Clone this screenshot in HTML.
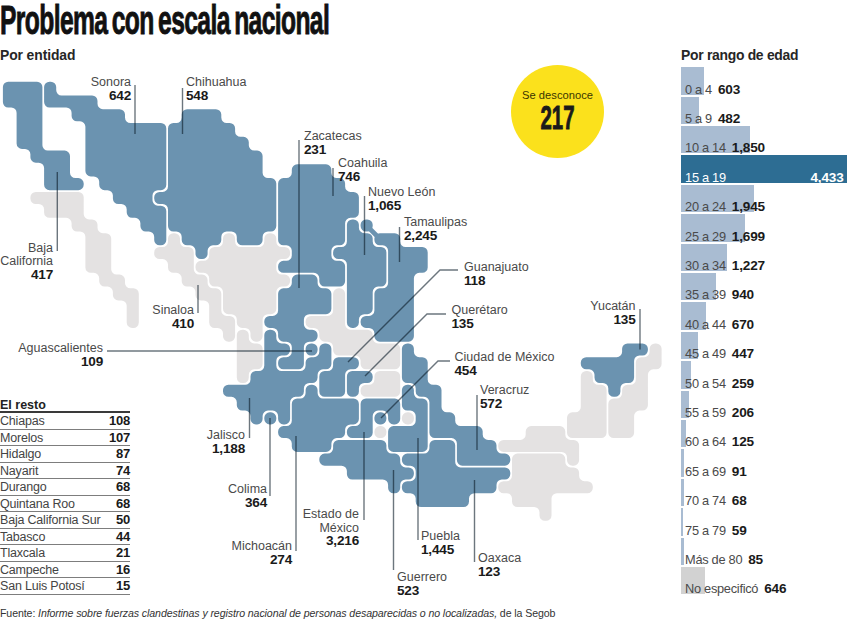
<!DOCTYPE html>
<html><head><meta charset="utf-8"><title>Problema con escala nacional</title>
<style>
html,body{margin:0;padding:0;background:#fff;}
body{width:847px;height:620px;position:relative;overflow:hidden;font-family:"Liberation Sans",sans-serif;color:#222;}
#title{position:absolute;left:0px;top:-2.3px;word-spacing:-3px;font-size:40px;font-weight:bold;letter-spacing:-1px;white-space:nowrap;transform:scaleX(0.616);transform-origin:0 0;color:#111;-webkit-text-stroke:0.9px #111;}
.sub{position:absolute;font-size:13.9px;letter-spacing:-0.1px;font-weight:bold;color:#262626;white-space:nowrap;}
svg#map{position:absolute;left:0;top:0;}
svg text{font-family:"Liberation Sans",sans-serif;font-size:12.5px;}
.ln{fill:#4a4a4a;}
.lv{fill:#1a1a1a;font-weight:bold;font-size:13.6px;letter-spacing:-0.2px;}
.bar{position:absolute;left:681px;height:27.4px;background:#a9bcd2;white-space:nowrap;font-size:12.5px;color:#555;overflow:visible;}
.bar.dark{background:#2d6d93;color:#fff;}
.bar.grey{background:#d2d2d2;}
.bar .bt{position:absolute;left:4px;bottom:-3px;line-height:16px;height:16px;}
.bar .bl{letter-spacing:-0.15px;word-spacing:-0.4px;font-size:12.8px;color:#4a4a4a;}
.bar.dark .bl{color:#fff;}
.bar .bl.tx{letter-spacing:-0.28px;word-spacing:0;}
.bar .bv{font-weight:bold;color:#1a1a1a;margin-left:6px;font-size:13.6px;letter-spacing:-0.2px;}
.bar .bvr{font-weight:bold;color:#fff;position:absolute;right:4.5px;bottom:-3px;line-height:16px;height:16px;font-size:13.6px;letter-spacing:-0.2px;}
#rest{position:absolute;left:0;top:397px;width:130px;font-size:12.5px;}
#rest .hd{font-weight:bold;color:#222;height:14px;line-height:16px;border-bottom:2px solid #3a3a3a;}
.rr{height:15.55px;line-height:16px;border-bottom:1px solid #7d7d7d;position:relative;color:#444;white-space:nowrap;letter-spacing:-0.2px;}
.rr b{position:absolute;right:0;color:#1a1a1a;font-size:13px;}
#src{position:absolute;left:0;top:606.5px;font-size:10.6px;color:#333;white-space:nowrap;letter-spacing:-0.1px;}
#circ{position:absolute;left:511px;top:65px;width:93px;height:93px;border-radius:50%;background:#fbe11c;}
#circ .t{position:absolute;left:0;width:93px;top:24px;text-align:center;font-size:11.2px;color:#3a3500;}
#circ .n{position:absolute;left:0;width:93px;top:33px;text-align:center;font-size:34px;font-weight:bold;color:#1a1a1a;transform:scaleX(0.6);line-height:38px;-webkit-text-stroke:0.9px #1a1a1a;}
</style></head><body>
<div id="title">Problema con escala nacional</div>
<div class="sub" style="left:0;top:47px;">Por entidad</div>
<div class="sub" style="left:681px;top:47px;letter-spacing:-0.28px;">Por rango de edad</div>
<svg id="map" width="847" height="620" viewBox="0 0 847 620">
<path d="M525.7 431.5A5.4 5.4 0 0 1 531.1 426.1L559.9 426.1A5.4 5.4 0 0 1 565.3 431.5L565.3 434.5A5.4 5.4 0 0 0 570.7 439.9L573.7 439.9A5.4 5.4 0 0 1 579.1 445.2L579.1 460.3A5.4 5.4 0 0 1 573.7 465.7L572.4 465.7A5.4 5.4 0 0 1 567.0 460.3L567.0 457.3A5.4 5.4 0 0 0 561.6 451.9L503.6 451.9A5.4 5.4 0 0 1 498.2 446.5L498.2 445.2A5.4 5.4 0 0 1 503.6 439.9L520.3 439.9A5.4 5.4 0 0 0 525.7 434.5Z" fill="#e4e2e2"/>
<path d="M30.4 197.3A5.4 5.4 0 0 1 35.8 191.9L78.3 191.9A5.4 5.4 0 0 1 83.7 197.3L83.7 214.0A5.4 5.4 0 0 0 89.1 219.4L92.1 219.4A5.4 5.4 0 0 1 97.5 224.8L97.5 227.8A5.4 5.4 0 0 0 102.9 233.2L105.8 233.2A5.4 5.4 0 0 1 111.2 238.6L111.2 269.2A5.4 5.4 0 0 0 116.6 274.6L119.6 274.6A5.4 5.4 0 0 1 125.0 279.9L125.0 282.9A5.4 5.4 0 0 0 130.4 288.3L133.3 288.3A5.4 5.4 0 0 1 138.8 293.7L138.8 322.6A5.4 5.4 0 0 1 133.3 327.9L132.1 327.9A5.4 5.4 0 0 1 126.7 322.6L126.7 305.8A5.4 5.4 0 0 0 121.3 300.4L118.3 300.4A5.4 5.4 0 0 1 112.9 295.0L112.9 292.0A5.4 5.4 0 0 0 107.5 286.6L104.6 286.6A5.4 5.4 0 0 1 99.2 281.2L99.2 278.2A5.4 5.4 0 0 0 93.8 272.8L90.8 272.8A5.4 5.4 0 0 1 85.4 267.4L85.4 236.9A5.4 5.4 0 0 0 80.0 231.5L77.0 231.5A5.4 5.4 0 0 1 71.6 226.1L71.6 223.2A5.4 5.4 0 0 0 66.2 217.8L49.5 217.8A5.4 5.4 0 0 1 44.1 212.3L44.1 209.4A5.4 5.4 0 0 0 38.7 204.0L35.8 204.0A5.4 5.4 0 0 1 30.4 198.6Z" fill="#e4e2e2"/>
<path d="M512.0 459.0A5.4 5.4 0 0 1 517.4 453.6L559.9 453.6A5.4 5.4 0 0 1 565.3 459.0L565.3 462.0A5.4 5.4 0 0 0 570.7 467.4L573.7 467.4A5.4 5.4 0 0 1 579.1 472.8L579.1 475.8A5.4 5.4 0 0 0 584.5 481.2L587.4 481.2A5.4 5.4 0 0 1 592.8 486.6L592.8 487.9A5.4 5.4 0 0 1 587.4 493.2L556.9 493.2A5.4 5.4 0 0 0 551.5 498.6L551.5 515.4A5.4 5.4 0 0 1 546.1 520.8L544.9 520.8A5.4 5.4 0 0 1 539.5 515.4L539.5 512.4A5.4 5.4 0 0 0 534.1 507.0L517.4 507.0A5.4 5.4 0 0 1 512.0 501.6L512.0 498.6A5.4 5.4 0 0 0 506.6 493.2L503.6 493.2A5.4 5.4 0 0 1 498.2 487.9L498.2 486.6A5.4 5.4 0 0 1 503.6 481.2L506.6 481.2A5.4 5.4 0 0 0 512.0 475.8Z" fill="#e4e2e2"/>
<path d="M223.0 238.6A5.4 5.4 0 0 1 228.4 233.2L229.7 233.2A5.4 5.4 0 0 1 235.1 238.6L235.1 241.6A5.4 5.4 0 0 0 240.5 247.0L258.9 247.0A5.4 5.4 0 0 0 264.3 241.6L264.3 238.6A5.4 5.4 0 0 1 269.7 233.2L270.9 233.2A5.4 5.4 0 0 1 276.3 238.6L276.3 241.6A5.4 5.4 0 0 0 281.7 247.0L284.7 247.0A5.4 5.4 0 0 1 290.1 252.4L290.1 253.7A5.4 5.4 0 0 1 284.7 259.1L281.7 259.1A5.4 5.4 0 0 0 276.3 264.5L276.3 269.2A5.4 5.4 0 0 0 281.7 274.6L284.7 274.6A5.4 5.4 0 0 1 290.1 279.9L290.1 281.2A5.4 5.4 0 0 1 284.7 286.6L281.7 286.6A5.4 5.4 0 0 0 276.3 292.0L276.3 308.8A5.4 5.4 0 0 1 270.9 314.2L268.0 314.2A5.4 5.4 0 0 0 262.6 319.6L262.6 336.3A5.4 5.4 0 0 1 257.2 341.7L255.9 341.7A5.4 5.4 0 0 1 250.5 336.3L250.5 333.3A5.4 5.4 0 0 0 245.1 327.9L242.2 327.9A5.4 5.4 0 0 1 236.8 322.6L236.8 319.6A5.4 5.4 0 0 0 231.4 314.2L228.4 314.2A5.4 5.4 0 0 1 223.0 308.8L223.0 292.0A5.4 5.4 0 0 0 217.6 286.6L214.7 286.6A5.4 5.4 0 0 1 209.2 281.2L209.2 278.2A5.4 5.4 0 0 0 203.8 272.8L200.9 272.8A5.4 5.4 0 0 1 195.5 267.4L195.5 266.2A5.4 5.4 0 0 1 200.9 260.8L203.8 260.8A5.4 5.4 0 0 0 209.2 255.4L209.2 252.4A5.4 5.4 0 0 1 214.7 247.0L217.6 247.0A5.4 5.4 0 0 0 223.0 241.6Z" fill="#e4e2e2"/>
<path d="M580.8 376.4A5.4 5.4 0 0 1 586.2 371.0L587.4 371.0A5.4 5.4 0 0 1 592.8 376.4L592.8 379.4A5.4 5.4 0 0 0 598.2 384.8L601.2 384.8A5.4 5.4 0 0 1 606.6 390.1L606.6 432.8A5.4 5.4 0 0 1 601.2 438.1L572.4 438.1A5.4 5.4 0 0 1 567.0 432.8L567.0 417.7A5.4 5.4 0 0 1 572.4 412.3L575.4 412.3A5.4 5.4 0 0 0 580.8 406.9Z" fill="#e4e2e2"/>
<path d="M374.4 376.4A5.4 5.4 0 0 1 379.8 371.0L394.8 371.0A5.4 5.4 0 0 1 400.2 376.4L400.2 391.4A5.4 5.4 0 0 1 394.8 396.8L366.0 396.8A5.4 5.4 0 0 1 360.6 391.4L360.6 390.1A5.4 5.4 0 0 1 366.0 384.8L369.0 384.8A5.4 5.4 0 0 0 374.4 379.4Z" fill="#e4e2e2"/>
<path d="M374.4 431.5A5.4 5.4 0 0 1 379.8 426.1L381.0 426.1A5.4 5.4 0 0 1 386.4 431.5L386.4 432.8A5.4 5.4 0 0 1 381.0 438.1L379.8 438.1A5.4 5.4 0 0 1 374.4 432.8Z" fill="#e4e2e2"/>
<path d="M236.8 335.1A5.4 5.4 0 0 1 242.2 329.7L243.4 329.7A5.4 5.4 0 0 1 248.8 335.1L248.8 338.0A5.4 5.4 0 0 0 254.2 343.4L257.2 343.4A5.4 5.4 0 0 1 262.6 348.8L262.6 363.9A5.4 5.4 0 0 1 257.2 369.3L254.2 369.3A5.4 5.4 0 0 0 248.8 374.7L248.8 377.6A5.4 5.4 0 0 1 243.4 383.0L242.2 383.0A5.4 5.4 0 0 1 236.8 377.6Z" fill="#e4e2e2"/>
<path d="M333.1 293.7A5.4 5.4 0 0 1 338.5 288.3L339.8 288.3A5.4 5.4 0 0 1 345.1 293.7L345.1 324.3A5.4 5.4 0 0 0 350.5 329.7L367.3 329.7A5.4 5.4 0 0 1 372.7 335.1L372.7 338.0A5.4 5.4 0 0 0 378.1 343.4L394.8 343.4A5.4 5.4 0 0 1 400.2 348.8L400.2 363.9A5.4 5.4 0 0 1 394.8 369.3L366.0 369.3A5.4 5.4 0 0 1 360.6 363.9L360.6 360.9A5.4 5.4 0 0 0 355.2 355.5L338.5 355.5A5.4 5.4 0 0 1 333.1 350.1L333.1 347.1A5.4 5.4 0 0 0 327.7 341.7L324.7 341.7A5.4 5.4 0 0 1 319.3 336.3L319.3 333.3A5.4 5.4 0 0 0 313.9 327.9L311.0 327.9A5.4 5.4 0 0 1 305.6 322.6L305.6 321.3A5.4 5.4 0 0 1 311.0 315.9L327.7 315.9A5.4 5.4 0 0 0 333.1 310.5Z" fill="#e4e2e2"/>
<path d="M649.6 348.8A5.4 5.4 0 0 1 655.0 343.4L656.2 343.4A5.4 5.4 0 0 1 661.6 348.8L661.6 363.9A5.4 5.4 0 0 1 656.2 369.3L653.3 369.3A5.4 5.4 0 0 0 647.9 374.7L647.9 405.2A5.4 5.4 0 0 1 642.5 410.6L639.5 410.6A5.4 5.4 0 0 0 634.1 416.0L634.1 432.8A5.4 5.4 0 0 1 628.7 438.1L613.7 438.1A5.4 5.4 0 0 1 608.3 432.8L608.3 403.9A5.4 5.4 0 0 1 613.7 398.5L616.7 398.5A5.4 5.4 0 0 0 622.1 393.1L622.1 390.1A5.4 5.4 0 0 1 627.5 384.8L630.4 384.8A5.4 5.4 0 0 0 635.8 379.4L635.8 362.6A5.4 5.4 0 0 1 641.2 357.2L644.2 357.2A5.4 5.4 0 0 0 649.6 351.8Z" fill="#e4e2e2"/>
<path d="M168.0 238.6A5.4 5.4 0 0 1 173.4 233.2L174.6 233.2A5.4 5.4 0 0 1 180.0 238.6L180.0 241.6A5.4 5.4 0 0 0 185.4 247.0L188.4 247.0A5.4 5.4 0 0 1 193.8 252.4L193.8 269.2A5.4 5.4 0 0 0 199.2 274.6L202.2 274.6A5.4 5.4 0 0 1 207.6 279.9L207.6 282.9A5.4 5.4 0 0 0 213.0 288.3L215.9 288.3A5.4 5.4 0 0 1 221.3 293.7L221.3 310.5A5.4 5.4 0 0 0 226.7 315.9L229.7 315.9A5.4 5.4 0 0 1 235.1 321.3L235.1 336.3A5.4 5.4 0 0 1 229.7 341.7L228.4 341.7A5.4 5.4 0 0 1 223.0 336.3L223.0 333.3A5.4 5.4 0 0 0 217.6 327.9L214.7 327.9A5.4 5.4 0 0 1 209.2 322.6L209.2 305.8A5.4 5.4 0 0 0 203.8 300.4L200.9 300.4A5.4 5.4 0 0 1 195.5 295.0L195.5 292.0A5.4 5.4 0 0 0 190.1 286.6L187.1 286.6A5.4 5.4 0 0 1 181.7 281.2L181.7 278.2A5.4 5.4 0 0 0 176.3 272.8L173.4 272.8A5.4 5.4 0 0 1 168.0 267.4L168.0 264.5A5.4 5.4 0 0 0 162.6 259.1L159.6 259.1A5.4 5.4 0 0 1 154.2 253.7L154.2 252.4A5.4 5.4 0 0 1 159.6 247.0L162.6 247.0A5.4 5.4 0 0 0 168.0 241.6Z" fill="#e4e2e2"/>
<path d="M401.9 417.7A5.4 5.4 0 0 1 407.3 412.3L408.6 412.3A5.4 5.4 0 0 1 413.9 417.7L413.9 419.0A5.4 5.4 0 0 1 408.6 424.4L407.3 424.4A5.4 5.4 0 0 1 401.9 419.0Z" fill="#e4e2e2"/>
<path d="M305.6 348.8A5.4 5.4 0 0 1 311.0 343.4L312.2 343.4A5.4 5.4 0 0 1 317.6 348.8L317.6 350.1A5.4 5.4 0 0 1 312.2 355.5L311.0 355.5A5.4 5.4 0 0 1 305.6 350.1Z" fill="#6b93b0"/>
<path d="M2.9 87.1A5.4 5.4 0 0 1 8.2 81.7L37.0 81.7A5.4 5.4 0 0 1 42.4 87.1L42.4 145.2A5.4 5.4 0 0 0 47.8 150.6L64.5 150.6A5.4 5.4 0 0 1 70.0 156.0L70.0 172.7A5.4 5.4 0 0 0 75.4 178.1L78.3 178.1A5.4 5.4 0 0 1 83.7 183.5L83.7 184.8A5.4 5.4 0 0 1 78.3 190.2L49.5 190.2A5.4 5.4 0 0 1 44.1 184.8L44.1 168.1A5.4 5.4 0 0 0 38.7 162.7L35.8 162.7A5.4 5.4 0 0 1 30.4 157.2L30.4 154.3A5.4 5.4 0 0 0 25.0 148.9L22.0 148.9A5.4 5.4 0 0 1 16.6 143.5L16.6 113.0A5.4 5.4 0 0 0 11.2 107.5L8.2 107.5A5.4 5.4 0 0 1 2.9 102.1Z" fill="#6b93b0"/>
<path d="M181.7 114.6A5.4 5.4 0 0 1 187.1 109.2L215.9 109.2A5.4 5.4 0 0 1 221.3 114.6L221.3 117.6A5.4 5.4 0 0 0 226.7 123.0L229.7 123.0A5.4 5.4 0 0 1 235.1 128.4L235.1 131.4A5.4 5.4 0 0 0 240.5 136.8L243.4 136.8A5.4 5.4 0 0 1 248.8 142.2L248.8 145.2A5.4 5.4 0 0 0 254.2 150.6L257.2 150.6A5.4 5.4 0 0 1 262.6 156.0L262.6 172.7A5.4 5.4 0 0 0 268.0 178.1L270.9 178.1A5.4 5.4 0 0 1 276.3 183.5L276.3 226.1A5.4 5.4 0 0 1 270.9 231.5L268.0 231.5A5.4 5.4 0 0 0 262.6 236.9L262.6 239.9A5.4 5.4 0 0 1 257.2 245.3L242.2 245.3A5.4 5.4 0 0 1 236.8 239.9L236.8 236.9A5.4 5.4 0 0 0 231.4 231.5L226.7 231.5A5.4 5.4 0 0 0 221.3 236.9L221.3 239.9A5.4 5.4 0 0 1 215.9 245.3L213.0 245.3A5.4 5.4 0 0 0 207.6 250.7L207.6 253.7A5.4 5.4 0 0 1 202.2 259.1L200.9 259.1A5.4 5.4 0 0 1 195.5 253.7L195.5 250.7A5.4 5.4 0 0 0 190.1 245.3L187.1 245.3A5.4 5.4 0 0 1 181.7 239.9L181.7 236.9A5.4 5.4 0 0 0 176.3 231.5L173.4 231.5A5.4 5.4 0 0 1 168.0 226.1L168.0 209.4A5.4 5.4 0 0 0 162.6 204.0L159.6 204.0A5.4 5.4 0 0 1 154.2 198.6L154.2 197.3A5.4 5.4 0 0 1 159.6 191.9L162.6 191.9A5.4 5.4 0 0 0 168.0 186.5L168.0 128.4A5.4 5.4 0 0 1 173.4 123.0L176.3 123.0A5.4 5.4 0 0 0 181.7 117.6Z" fill="#6b93b0"/>
<path d="M360.6 403.9A5.4 5.4 0 0 1 366.0 398.5L394.8 398.5A5.4 5.4 0 0 1 400.2 403.9L400.2 419.0A5.4 5.4 0 0 1 394.8 424.4L393.5 424.4A5.4 5.4 0 0 1 388.1 419.0L388.1 416.0A5.4 5.4 0 0 0 382.7 410.6L378.1 410.6A5.4 5.4 0 0 0 372.7 416.0L372.7 432.8A5.4 5.4 0 0 1 367.3 438.1L352.2 438.1A5.4 5.4 0 0 1 346.9 432.8L346.9 431.5A5.4 5.4 0 0 1 352.2 426.1L355.2 426.1A5.4 5.4 0 0 0 360.6 420.7Z" fill="#6b93b0"/>
<path d="M333.1 362.6A5.4 5.4 0 0 1 338.5 357.2L353.5 357.2A5.4 5.4 0 0 1 358.9 362.6L358.9 363.9A5.4 5.4 0 0 1 353.5 369.3L350.5 369.3A5.4 5.4 0 0 0 345.1 374.7L345.1 391.4A5.4 5.4 0 0 1 339.8 396.8L324.7 396.8A5.4 5.4 0 0 1 319.3 391.4L319.3 376.4A5.4 5.4 0 0 1 324.7 371.0L327.7 371.0A5.4 5.4 0 0 0 333.1 365.6Z" fill="#6b93b0"/>
<path d="M264.3 335.1A5.4 5.4 0 0 1 269.7 329.7L270.9 329.7A5.4 5.4 0 0 1 276.3 335.1L276.3 338.0A5.4 5.4 0 0 0 281.7 343.4L284.7 343.4A5.4 5.4 0 0 1 290.1 348.8L290.1 350.1A5.4 5.4 0 0 1 284.7 355.5L281.7 355.5A5.4 5.4 0 0 0 276.3 360.9L276.3 365.6A5.4 5.4 0 0 0 281.7 371.0L300.2 371.0A5.4 5.4 0 0 0 305.6 365.6L305.6 362.6A5.4 5.4 0 0 1 311.0 357.2L313.9 357.2A5.4 5.4 0 0 0 319.3 351.8L319.3 348.8A5.4 5.4 0 0 1 324.7 343.4L326.0 343.4A5.4 5.4 0 0 1 331.4 348.8L331.4 363.9A5.4 5.4 0 0 1 326.0 369.3L323.0 369.3A5.4 5.4 0 0 0 317.6 374.7L317.6 377.6A5.4 5.4 0 0 1 312.2 383.0L309.3 383.0A5.4 5.4 0 0 0 303.9 388.4L303.9 391.4A5.4 5.4 0 0 1 298.5 396.8L295.5 396.8A5.4 5.4 0 0 0 290.1 402.2L290.1 419.0A5.4 5.4 0 0 1 284.7 424.4L283.4 424.4A5.4 5.4 0 0 1 278.1 419.0L278.1 416.0A5.4 5.4 0 0 0 272.7 410.6L268.0 410.6A5.4 5.4 0 0 0 262.6 416.0L262.6 419.0A5.4 5.4 0 0 1 257.2 424.4L255.9 424.4A5.4 5.4 0 0 1 250.5 419.0L250.5 416.0A5.4 5.4 0 0 0 245.1 410.6L242.2 410.6A5.4 5.4 0 0 1 236.8 405.2L236.8 402.2A5.4 5.4 0 0 0 231.4 396.8L228.4 396.8A5.4 5.4 0 0 1 223.0 391.4L223.0 390.1A5.4 5.4 0 0 1 228.4 384.8L245.1 384.8A5.4 5.4 0 0 0 250.5 379.4L250.5 376.4A5.4 5.4 0 0 1 255.9 371.0L258.9 371.0A5.4 5.4 0 0 0 264.3 365.6Z" fill="#6b93b0"/>
<path d="M429.4 445.2A5.4 5.4 0 0 1 434.8 439.9L449.8 439.9A5.4 5.4 0 0 1 455.2 445.2L455.2 462.0A5.4 5.4 0 0 0 460.6 467.4L504.9 467.4A5.4 5.4 0 0 1 510.3 472.8L510.3 474.1A5.4 5.4 0 0 1 504.9 479.5L501.9 479.5A5.4 5.4 0 0 0 496.5 484.9L496.5 487.9A5.4 5.4 0 0 1 491.1 493.2L474.4 493.2A5.4 5.4 0 0 0 469.0 498.6L469.0 501.6A5.4 5.4 0 0 1 463.6 507.0L421.1 507.0A5.4 5.4 0 0 1 415.7 501.6L415.7 498.6A5.4 5.4 0 0 0 410.3 493.2L407.3 493.2A5.4 5.4 0 0 1 401.9 487.9L401.9 486.6A5.4 5.4 0 0 1 407.3 481.2L410.3 481.2A5.4 5.4 0 0 0 415.7 475.8L415.7 471.1A5.4 5.4 0 0 0 410.3 465.7L407.3 465.7A5.4 5.4 0 0 1 401.9 460.3L401.9 459.0A5.4 5.4 0 0 1 407.3 453.6L424.0 453.6A5.4 5.4 0 0 0 429.4 448.2Z" fill="#6b93b0"/>
<path d="M264.3 417.7A5.4 5.4 0 0 1 269.7 412.3L270.9 412.3A5.4 5.4 0 0 1 276.3 417.7L276.3 419.0A5.4 5.4 0 0 1 270.9 424.4L269.7 424.4A5.4 5.4 0 0 1 264.3 419.0Z" fill="#6b93b0"/>
<path d="M305.6 390.1A5.4 5.4 0 0 1 311.0 384.8L312.2 384.8A5.4 5.4 0 0 1 317.6 390.1L317.6 393.1A5.4 5.4 0 0 0 323.0 398.5L353.5 398.5A5.4 5.4 0 0 1 358.9 403.9L358.9 419.0A5.4 5.4 0 0 1 353.5 424.4L350.5 424.4A5.4 5.4 0 0 0 345.1 429.8L345.1 432.8A5.4 5.4 0 0 1 339.8 438.1L336.8 438.1A5.4 5.4 0 0 0 331.4 443.5L331.4 446.5A5.4 5.4 0 0 1 326.0 451.9L297.2 451.9A5.4 5.4 0 0 1 291.8 446.5L291.8 443.5A5.4 5.4 0 0 0 286.4 438.1L283.4 438.1A5.4 5.4 0 0 1 278.1 432.8L278.1 431.5A5.4 5.4 0 0 1 283.4 426.1L286.4 426.1A5.4 5.4 0 0 0 291.8 420.7L291.8 403.9A5.4 5.4 0 0 1 297.2 398.5L300.2 398.5A5.4 5.4 0 0 0 305.6 393.1Z" fill="#6b93b0"/>
<path d="M346.9 224.8A5.4 5.4 0 0 1 352.2 219.4L353.5 219.4A5.4 5.4 0 0 1 358.9 224.8L358.9 227.8A5.4 5.4 0 0 0 364.3 233.2L367.3 233.2A5.4 5.4 0 0 1 372.7 238.6L372.7 241.6A5.4 5.4 0 0 0 378.1 247.0L381.0 247.0A5.4 5.4 0 0 1 386.4 252.4L386.4 281.2A5.4 5.4 0 0 1 381.0 286.6L378.1 286.6A5.4 5.4 0 0 0 372.7 292.0L372.7 308.8A5.4 5.4 0 0 1 367.3 314.2L364.3 314.2A5.4 5.4 0 0 0 358.9 319.6L358.9 322.6A5.4 5.4 0 0 1 353.5 327.9L352.2 327.9A5.4 5.4 0 0 1 346.9 322.6L346.9 264.5A5.4 5.4 0 0 0 341.5 259.1L338.5 259.1A5.4 5.4 0 0 1 333.1 253.7L333.1 252.4A5.4 5.4 0 0 1 338.5 247.0L341.5 247.0A5.4 5.4 0 0 0 346.9 241.6Z" fill="#6b93b0"/>
<path d="M291.8 169.8A5.4 5.4 0 0 1 297.2 164.3L326.0 164.3A5.4 5.4 0 0 1 331.4 169.8L331.4 172.7A5.4 5.4 0 0 0 336.8 178.1L339.8 178.1A5.4 5.4 0 0 1 345.1 183.5L345.1 186.5A5.4 5.4 0 0 0 350.5 191.9L353.5 191.9A5.4 5.4 0 0 1 358.9 197.3L358.9 212.3A5.4 5.4 0 0 1 353.5 217.8L350.5 217.8A5.4 5.4 0 0 0 345.1 223.2L345.1 239.9A5.4 5.4 0 0 1 339.8 245.3L336.8 245.3A5.4 5.4 0 0 0 331.4 250.7L331.4 255.4A5.4 5.4 0 0 0 336.8 260.8L339.8 260.8A5.4 5.4 0 0 1 345.1 266.2L345.1 281.2A5.4 5.4 0 0 1 339.8 286.6L324.7 286.6A5.4 5.4 0 0 1 319.3 281.2L319.3 278.2A5.4 5.4 0 0 0 313.9 272.8L283.4 272.8A5.4 5.4 0 0 1 278.1 267.4L278.1 266.2A5.4 5.4 0 0 1 283.4 260.8L286.4 260.8A5.4 5.4 0 0 0 291.8 255.4L291.8 250.7A5.4 5.4 0 0 0 286.4 245.3L283.4 245.3A5.4 5.4 0 0 1 278.1 239.9L278.1 183.5A5.4 5.4 0 0 1 283.4 178.1L286.4 178.1A5.4 5.4 0 0 0 291.8 172.7Z" fill="#6b93b0"/>
<path d="M401.9 390.1A5.4 5.4 0 0 1 407.3 384.8L408.6 384.8A5.4 5.4 0 0 1 413.9 390.1L413.9 393.1A5.4 5.4 0 0 0 419.3 398.5L422.3 398.5A5.4 5.4 0 0 1 427.7 403.9L427.7 446.5A5.4 5.4 0 0 1 422.3 451.9L393.5 451.9A5.4 5.4 0 0 1 388.1 446.5L388.1 431.5A5.4 5.4 0 0 1 393.5 426.1L410.3 426.1A5.4 5.4 0 0 0 415.7 420.7L415.7 416.0A5.4 5.4 0 0 0 410.3 410.6L407.3 410.6A5.4 5.4 0 0 1 401.9 405.2Z" fill="#6b93b0"/>
<path d="M346.9 376.4A5.4 5.4 0 0 1 352.2 371.0L367.3 371.0A5.4 5.4 0 0 1 372.7 376.4L372.7 377.6A5.4 5.4 0 0 1 367.3 383.0L364.3 383.0A5.4 5.4 0 0 0 358.9 388.4L358.9 391.4A5.4 5.4 0 0 1 353.5 396.8L352.2 396.8A5.4 5.4 0 0 1 346.9 391.4Z" fill="#6b93b0"/>
<path d="M333.1 445.2A5.4 5.4 0 0 1 338.5 439.9L381.0 439.9A5.4 5.4 0 0 1 386.4 445.2L386.4 448.2A5.4 5.4 0 0 0 391.8 453.6L394.8 453.6A5.4 5.4 0 0 1 400.2 459.0L400.2 462.0A5.4 5.4 0 0 0 405.6 467.4L408.6 467.4A5.4 5.4 0 0 1 413.9 472.8L413.9 474.1A5.4 5.4 0 0 1 408.6 479.5L405.6 479.5A5.4 5.4 0 0 0 400.2 484.9L400.2 487.9A5.4 5.4 0 0 1 394.8 493.2L393.5 493.2A5.4 5.4 0 0 1 388.1 487.9L388.1 484.9A5.4 5.4 0 0 0 382.7 479.5L352.2 479.5A5.4 5.4 0 0 1 346.9 474.1L346.9 471.1A5.4 5.4 0 0 0 341.5 465.7L324.7 465.7A5.4 5.4 0 0 1 319.3 460.3L319.3 459.0A5.4 5.4 0 0 1 324.7 453.6L327.7 453.6A5.4 5.4 0 0 0 333.1 448.2Z" fill="#6b93b0"/>
<path d="M44.1 87.1A5.4 5.4 0 0 1 49.5 81.7L50.8 81.7A5.4 5.4 0 0 1 56.2 87.1L56.2 90.1A5.4 5.4 0 0 0 61.6 95.5L92.1 95.5A5.4 5.4 0 0 1 97.5 100.9L97.5 103.8A5.4 5.4 0 0 0 102.9 109.2L119.6 109.2A5.4 5.4 0 0 1 125.0 114.6L125.0 117.6A5.4 5.4 0 0 0 130.4 123.0L160.9 123.0A5.4 5.4 0 0 1 166.3 128.4L166.3 184.8A5.4 5.4 0 0 1 160.9 190.2L157.9 190.2A5.4 5.4 0 0 0 152.5 195.6L152.5 200.3A5.4 5.4 0 0 0 157.9 205.7L160.9 205.7A5.4 5.4 0 0 1 166.3 211.1L166.3 239.9A5.4 5.4 0 0 1 160.9 245.3L159.6 245.3A5.4 5.4 0 0 1 154.2 239.9L154.2 236.9A5.4 5.4 0 0 0 148.8 231.5L145.8 231.5A5.4 5.4 0 0 1 140.4 226.1L140.4 223.2A5.4 5.4 0 0 0 135.0 217.8L132.1 217.8A5.4 5.4 0 0 1 126.7 212.3L126.7 209.4A5.4 5.4 0 0 0 121.3 204.0L118.3 204.0A5.4 5.4 0 0 1 112.9 198.6L112.9 195.6A5.4 5.4 0 0 0 107.5 190.2L104.6 190.2A5.4 5.4 0 0 1 99.2 184.8L99.2 181.8A5.4 5.4 0 0 0 93.8 176.4L90.8 176.4A5.4 5.4 0 0 1 85.4 171.0L85.4 126.7A5.4 5.4 0 0 0 80.0 121.3L77.0 121.3A5.4 5.4 0 0 1 71.6 115.9L71.6 113.0A5.4 5.4 0 0 0 66.2 107.5L49.5 107.5A5.4 5.4 0 0 1 44.1 102.1Z" fill="#6b93b0"/>
<path d="M360.6 224.8A5.4 5.4 0 0 1 366.0 219.4L367.3 219.4A5.4 5.4 0 0 1 372.7 224.8L372.7 226.1A5.4 5.4 0 0 1 367.3 231.5L366.0 231.5A5.4 5.4 0 0 1 360.6 226.1ZM374.4 238.6A5.4 5.4 0 0 1 379.8 233.2L394.8 233.2A5.4 5.4 0 0 1 400.2 238.6L400.2 241.6A5.4 5.4 0 0 0 405.6 247.0L422.3 247.0A5.4 5.4 0 0 1 427.7 252.4L427.7 267.4A5.4 5.4 0 0 1 422.3 272.8L419.3 272.8A5.4 5.4 0 0 0 413.9 278.2L413.9 336.3A5.4 5.4 0 0 1 408.6 341.7L379.8 341.7A5.4 5.4 0 0 1 374.4 336.3L374.4 333.3A5.4 5.4 0 0 0 369.0 327.9L366.0 327.9A5.4 5.4 0 0 1 360.6 322.6L360.6 321.3A5.4 5.4 0 0 1 366.0 315.9L369.0 315.9A5.4 5.4 0 0 0 374.4 310.5L374.4 293.7A5.4 5.4 0 0 1 379.8 288.3L382.7 288.3A5.4 5.4 0 0 0 388.1 282.9L388.1 250.7A5.4 5.4 0 0 0 382.7 245.3L379.8 245.3A5.4 5.4 0 0 1 374.4 239.9Z" fill="#6b93b0"/>
<path d="M401.9 348.8A5.4 5.4 0 0 1 407.3 343.4L408.6 343.4A5.4 5.4 0 0 1 413.9 348.8L413.9 351.8A5.4 5.4 0 0 0 419.3 357.2L422.3 357.2A5.4 5.4 0 0 1 427.7 362.6L427.7 379.4A5.4 5.4 0 0 0 433.1 384.8L436.1 384.8A5.4 5.4 0 0 1 441.5 390.1L441.5 406.9A5.4 5.4 0 0 0 446.9 412.3L449.8 412.3A5.4 5.4 0 0 1 455.2 417.7L455.2 420.7A5.4 5.4 0 0 0 460.6 426.1L477.3 426.1A5.4 5.4 0 0 1 482.7 431.5L482.7 434.5A5.4 5.4 0 0 0 488.1 439.9L491.1 439.9A5.4 5.4 0 0 1 496.5 445.2L496.5 448.2A5.4 5.4 0 0 0 501.9 453.6L504.9 453.6A5.4 5.4 0 0 1 510.3 459.0L510.3 460.3A5.4 5.4 0 0 1 504.9 465.7L462.3 465.7A5.4 5.4 0 0 1 456.9 460.3L456.9 443.5A5.4 5.4 0 0 0 451.5 438.1L434.8 438.1A5.4 5.4 0 0 1 429.4 432.8L429.4 402.2A5.4 5.4 0 0 0 424.0 396.8L421.1 396.8A5.4 5.4 0 0 1 415.7 391.4L415.7 388.4A5.4 5.4 0 0 0 410.3 383.0L407.3 383.0A5.4 5.4 0 0 1 401.9 377.6Z" fill="#6b93b0"/>
<path d="M374.4 417.7A5.4 5.4 0 0 1 379.8 412.3L381.0 412.3A5.4 5.4 0 0 1 386.4 417.7L386.4 419.0A5.4 5.4 0 0 1 381.0 424.4L379.8 424.4A5.4 5.4 0 0 1 374.4 419.0Z" fill="#6b93b0"/>
<path d="M622.1 348.8A5.4 5.4 0 0 1 627.5 343.4L642.5 343.4A5.4 5.4 0 0 1 647.9 348.8L647.9 350.1A5.4 5.4 0 0 1 642.5 355.5L639.5 355.5A5.4 5.4 0 0 0 634.1 360.9L634.1 377.6A5.4 5.4 0 0 1 628.7 383.0L625.8 383.0A5.4 5.4 0 0 0 620.4 388.4L620.4 391.4A5.4 5.4 0 0 1 615.0 396.8L613.7 396.8A5.4 5.4 0 0 1 608.3 391.4L608.3 388.4A5.4 5.4 0 0 0 602.9 383.0L599.9 383.0A5.4 5.4 0 0 1 594.5 377.6L594.5 374.7A5.4 5.4 0 0 0 589.1 369.3L586.2 369.3A5.4 5.4 0 0 1 580.8 363.9L580.8 362.6A5.4 5.4 0 0 1 586.2 357.2L616.7 357.2A5.4 5.4 0 0 0 622.1 351.8Z" fill="#6b93b0"/>
<path d="M291.8 279.9A5.4 5.4 0 0 1 297.2 274.6L312.2 274.6A5.4 5.4 0 0 1 317.6 279.9L317.6 282.9A5.4 5.4 0 0 0 323.0 288.3L326.0 288.3A5.4 5.4 0 0 1 331.4 293.7L331.4 308.8A5.4 5.4 0 0 1 326.0 314.2L309.3 314.2A5.4 5.4 0 0 0 303.9 319.6L303.9 324.3A5.4 5.4 0 0 0 309.3 329.7L312.2 329.7A5.4 5.4 0 0 1 317.6 335.1L317.6 336.3A5.4 5.4 0 0 1 312.2 341.7L309.3 341.7A5.4 5.4 0 0 0 303.9 347.1L303.9 363.9A5.4 5.4 0 0 1 298.5 369.3L283.4 369.3A5.4 5.4 0 0 1 278.1 363.9L278.1 362.6A5.4 5.4 0 0 1 283.4 357.2L286.4 357.2A5.4 5.4 0 0 0 291.8 351.8L291.8 347.1A5.4 5.4 0 0 0 286.4 341.7L283.4 341.7A5.4 5.4 0 0 1 278.1 336.3L278.1 333.3A5.4 5.4 0 0 0 272.7 327.9L269.7 327.9A5.4 5.4 0 0 1 264.3 322.6L264.3 321.3A5.4 5.4 0 0 1 269.7 315.9L272.7 315.9A5.4 5.4 0 0 0 278.1 310.5L278.1 293.7A5.4 5.4 0 0 1 283.4 288.3L286.4 288.3A5.4 5.4 0 0 0 291.8 282.9Z" fill="#6b93b0"/>

<path d="M368 227L379 238" stroke="#6b93b0" stroke-width="4.6" fill="none"/>
<path d="M135 85V134" fill="none" stroke="#0a1a28" stroke-opacity="0.6" stroke-width="1.4"/>
<path d="M182.5 88V134" fill="none" stroke="#0a1a28" stroke-opacity="0.6" stroke-width="1.4"/>
<path d="M299 140V288" fill="none" stroke="#0a1a28" stroke-opacity="0.6" stroke-width="1.4"/>
<path d="M333 168V196" fill="none" stroke="#0a1a28" stroke-opacity="0.6" stroke-width="1.4"/>
<path d="M364.5 196V255" fill="none" stroke="#0a1a28" stroke-opacity="0.6" stroke-width="1.4"/>
<path d="M399.5 227V262" fill="none" stroke="#0a1a28" stroke-opacity="0.6" stroke-width="1.4"/>
<path d="M458 270H440L348 362" fill="none" stroke="#0a1a28" stroke-opacity="0.6" stroke-width="1.4"/>
<path d="M446 314H427L365 376" fill="none" stroke="#0a1a28" stroke-opacity="0.6" stroke-width="1.4"/>
<path d="M450 361H438L381 418" fill="none" stroke="#0a1a28" stroke-opacity="0.6" stroke-width="1.4"/>
<path d="M477 395V450" fill="none" stroke="#0a1a28" stroke-opacity="0.6" stroke-width="1.4"/>
<path d="M640 309V349.5" fill="none" stroke="#0a1a28" stroke-opacity="0.6" stroke-width="1.4"/>
<path d="M57.3 172V251" fill="none" stroke="#0a1a28" stroke-opacity="0.6" stroke-width="1.4"/>
<path d="M198 285V313" fill="none" stroke="#0a1a28" stroke-opacity="0.6" stroke-width="1.4"/>
<path d="M107 351H312" fill="none" stroke="#0a1a28" stroke-opacity="0.6" stroke-width="1.4"/>
<path d="M249.5 398V438" fill="none" stroke="#0a1a28" stroke-opacity="0.6" stroke-width="1.4"/>
<path d="M270 418V496" fill="none" stroke="#0a1a28" stroke-opacity="0.6" stroke-width="1.4"/>
<path d="M296 436V551" fill="none" stroke="#0a1a28" stroke-opacity="0.6" stroke-width="1.4"/>
<path d="M364 432V520" fill="none" stroke="#0a1a28" stroke-opacity="0.6" stroke-width="1.4"/>
<path d="M393.5 470V570" fill="none" stroke="#0a1a28" stroke-opacity="0.6" stroke-width="1.4"/>
<path d="M418 438V540" fill="none" stroke="#0a1a28" stroke-opacity="0.6" stroke-width="1.4"/>
<path d="M474.5 480V562" fill="none" stroke="#0a1a28" stroke-opacity="0.6" stroke-width="1.4"/>

<text x="131" y="86" text-anchor="end" class="ln">Sonora</text>
<text x="131" y="99.6" text-anchor="end" class="lv">642</text>
<text x="186" y="86" text-anchor="start" class="ln">Chihuahua</text>
<text x="186" y="99.6" text-anchor="start" class="lv">548</text>
<text x="304" y="140" text-anchor="start" class="ln">Zacatecas</text>
<text x="304" y="153.6" text-anchor="start" class="lv">231</text>
<text x="338" y="167" text-anchor="start" class="ln">Coahuila</text>
<text x="338" y="180.6" text-anchor="start" class="lv">746</text>
<text x="368" y="196" text-anchor="start" class="ln">Nuevo León</text>
<text x="368" y="209.6" text-anchor="start" class="lv">1,065</text>
<text x="404" y="226" text-anchor="start" class="ln">Tamaulipas</text>
<text x="404" y="239.6" text-anchor="start" class="lv">2,245</text>
<text x="464" y="271" text-anchor="start" class="ln">Guanajuato</text>
<text x="464" y="284.6" text-anchor="start" class="lv">118</text>
<text x="451.5" y="314" text-anchor="start" class="ln">Querétaro</text>
<text x="451.5" y="327.6" text-anchor="start" class="lv">135</text>
<text x="454.5" y="361" text-anchor="start" class="ln">Ciudad de México</text>
<text x="454.5" y="374.6" text-anchor="start" class="lv">454</text>
<text x="480" y="394" text-anchor="start" class="ln">Veracruz</text>
<text x="480" y="407.6" text-anchor="start" class="lv">572</text>
<text x="635.5" y="310" text-anchor="end" class="ln">Yucatán</text>
<text x="635.5" y="323.6" text-anchor="end" class="lv">135</text>
<text x="53" y="251.5" text-anchor="end" class="ln">Baja</text>
<text x="53" y="265.1" text-anchor="end" class="ln">California</text>
<text x="53" y="278.70000000000005" text-anchor="end" class="lv">417</text>
<text x="194" y="314" text-anchor="end" class="ln">Sinaloa</text>
<text x="194" y="327.6" text-anchor="end" class="lv">410</text>
<text x="103" y="352" text-anchor="end" class="ln">Aguascalientes</text>
<text x="103" y="365.6" text-anchor="end" class="lv">109</text>
<text x="245" y="439" text-anchor="end" class="ln">Jalisco</text>
<text x="245" y="452.6" text-anchor="end" class="lv">1,188</text>
<text x="267" y="493" text-anchor="end" class="ln">Colima</text>
<text x="267" y="506.6" text-anchor="end" class="lv">364</text>
<text x="292" y="550" text-anchor="end" class="ln">Michoacán</text>
<text x="292" y="563.6" text-anchor="end" class="lv">274</text>
<text x="359" y="518" text-anchor="end" class="ln">Estado de</text>
<text x="359" y="531.6" text-anchor="end" class="ln">México</text>
<text x="359" y="545.2" text-anchor="end" class="lv">3,216</text>
<text x="397" y="581" text-anchor="start" class="ln">Guerrero</text>
<text x="397" y="594.6" text-anchor="start" class="lv">523</text>
<text x="421" y="540" text-anchor="start" class="ln">Puebla</text>
<text x="421" y="553.6" text-anchor="start" class="lv">1,445</text>
<text x="478" y="562" text-anchor="start" class="ln">Oaxaca</text>
<text x="478" y="575.6" text-anchor="start" class="lv">123</text>

</svg>
<div id="circ"><div class="t">Se desconoce</div><div class="n">217</div></div>
<div class="bar" style="top:67.2px;width:22.6px"><span class="bt"><span class="bl">0 a 4</span><span class="bv">603</span></span></div>
<div class="bar" style="top:96.6px;width:18.0px"><span class="bt"><span class="bl">5 a 9</span><span class="bv">482</span></span></div>
<div class="bar" style="top:126.0px;width:69.3px"><span class="bt"><span class="bl">10 a 14</span><span class="bv">1,850</span></span></div>
<div class="bar dark" style="top:155.4px;width:167px"><span class="bt"><span class="bl">15 a 19</span></span><span class="bvr">4,433</span></div>
<div class="bar" style="top:184.8px;width:72.8px"><span class="bt"><span class="bl">20 a 24</span><span class="bv">1,945</span></span></div>
<div class="bar" style="top:214.2px;width:63.6px"><span class="bt"><span class="bl">25 a 29</span><span class="bv">1,699</span></span></div>
<div class="bar" style="top:243.6px;width:45.9px"><span class="bt"><span class="bl">30 a 34</span><span class="bv">1,227</span></span></div>
<div class="bar" style="top:273.0px;width:35.2px"><span class="bt"><span class="bl">35 a 39</span><span class="bv">940</span></span></div>
<div class="bar" style="top:302.4px;width:25.1px"><span class="bt"><span class="bl">40 a 44</span><span class="bv">670</span></span></div>
<div class="bar" style="top:331.8px;width:16.7px"><span class="bt"><span class="bl">45 a 49</span><span class="bv">447</span></span></div>
<div class="bar" style="top:361.2px;width:9.7px"><span class="bt"><span class="bl">50 a 54</span><span class="bv">259</span></span></div>
<div class="bar" style="top:390.6px;width:7.7px"><span class="bt"><span class="bl">55 a 59</span><span class="bv">206</span></span></div>
<div class="bar" style="top:420.0px;width:4.7px"><span class="bt"><span class="bl">60 a 64</span><span class="bv">125</span></span></div>
<div class="bar" style="top:449.4px;width:3.4px"><span class="bt"><span class="bl">65 a 69</span><span class="bv">91</span></span></div>
<div class="bar" style="top:478.8px;width:2.5px"><span class="bt"><span class="bl">70 a 74</span><span class="bv">68</span></span></div>
<div class="bar" style="top:508.2px;width:2.2px"><span class="bt"><span class="bl">75 a 79</span><span class="bv">59</span></span></div>
<div class="bar" style="top:537.6px;width:3.2px"><span class="bt"><span class="bl tx">Más de 80</span><span class="bv">85</span></span></div>
<div class="bar grey" style="top:567.0px;width:24.2px"><span class="bt"><span class="bl tx">No especificó</span><span class="bv">646</span></span></div>

<div id="rest"><div class="hd">El resto</div>
<div class="rr"><span>Chiapas</span><b>108</b></div>
<div class="rr"><span>Morelos</span><b>107</b></div>
<div class="rr"><span>Hidalgo</span><b>87</b></div>
<div class="rr"><span>Nayarit</span><b>74</b></div>
<div class="rr"><span>Durango</span><b>68</b></div>
<div class="rr"><span>Quintana Roo</span><b>68</b></div>
<div class="rr"><span>Baja California Sur</span><b>50</b></div>
<div class="rr"><span>Tabasco</span><b>44</b></div>
<div class="rr"><span>Tlaxcala</span><b>21</b></div>
<div class="rr"><span>Campeche</span><b>16</b></div>
<div class="rr"><span>San Luis Potosí</span><b>15</b></div>
</div>
<div id="src">Fuente: <i>Informe sobre fuerzas clandestinas y registro nacional de personas desaparecidas o no localizadas,</i> de la Segob</div>
</body></html>
